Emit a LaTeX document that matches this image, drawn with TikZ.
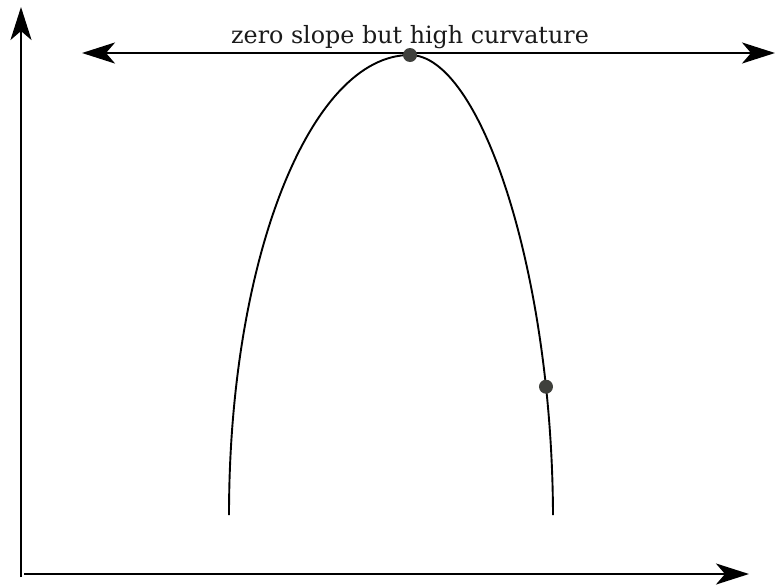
\documentclass[tikz,border=0pt]{standalone}
\usepackage{fontspec}
\setmainfont{DejaVu Serif}
\usepackage{xcolor}
\definecolor{dotgray}{HTML}{3F403C}
\definecolor{textdark}{HTML}{1A1A1A}
\usetikzlibrary{arrows.meta, positioning}

\begin{document}
\begin{tikzpicture}[
        x=1pt, y=-1pt,
        axis_line/.style={line width=2.6pt, -{Stealth[length=33pt, width=21pt, inset=9pt]}},
        both_line/.style={line width=2.6pt, {Stealth[length=33pt, width=21pt, inset=9pt]}-{Stealth[length=33pt, width=21pt, inset=9pt]}},
        curve_line/.style={line width=1.9pt},
        dot_node/.style={circle, fill=dotgray, inner sep=0pt, minimum size=14pt},
        label_node/.style={font=\fontsize{23.8}{28}\selectfont, text=textdark, anchor=base}
    ]
    \useasboundingbox (0,0) rectangle (775,584);

    % Axes
    \coordinate (origin) at (21,577);
    \coordinate (ytip) at (21,7);
    \coordinate (xstart) at (24,574);
    \coordinate (xtip) at (749,574);
    \draw[axis_line] (origin) -- (ytip);
    \draw[axis_line] (xstart) -- (xtip);

    % Curve
    \coordinate (lfoot) at (229,515);
    \coordinate (peak) at (410,55);
    \coordinate (rfoot) at (553,515);
    \draw[curve_line] (lfoot) .. controls (229,260) and (310,55) .. (peak)
        .. controls (480,55) and (552,270) .. (rfoot) node[dot_node, pos=0.82] (steep) {};

    % Tangent at the top
    \coordinate (tleft) at (82,53);
    \coordinate (tright) at (775,53);
    \draw[both_line] (tleft) -- (tright);
    \node[dot_node] (top) at (peak) {};
    \node[label_node] (caption) at (410,43) {zero slope but high curvature};

\end{tikzpicture}
\end{document}
